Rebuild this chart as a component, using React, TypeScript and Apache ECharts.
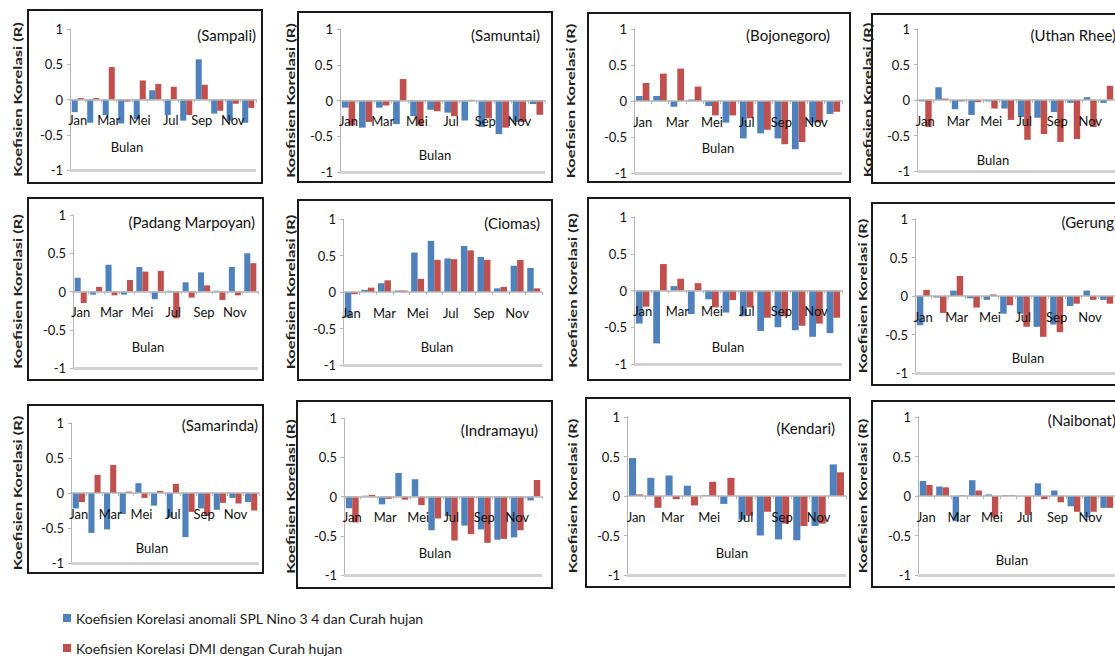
import React, { useEffect, useRef } from 'react';
import * as echarts from 'echarts';

const months = ['Jan', 'Feb', 'Mar', 'Apr', 'Mei', 'Jun', 'Jul', 'Agu', 'Sep', 'Okt', 'Nov', 'Des'];
const seriesNames = [
  'Koefisien Korelasi anomali SPL Nino 3 4 dan Curah hujan',
  'Koefisien Korelasi DMI dengan Curah hujan',
];
const stationNames = [
  '(Sampali)', '(Samuntai)', '(Bojonegoro)', '(Uthan Rhee)',
  '(Padang Marpoyan)', '(Ciomas)', '', '(Gerung)',
  '(Samarinda)', '(Indramayu)', '(Kendari)', '(Naibonat)',
];
const yAxisTitle = 'Koefisien Korelasi (R)';
const xAxisTitle = 'Bulan';

const ninoSampali = [-0.18, -0.33, -0.22, -0.34, -0.28, 0.13, -0.22, -0.30, 0.57, -0.20, -0.30, -0.33];
const dmiSampali = [0.02, 0.02, 0.46, -0.03, 0.27, 0.22, 0.18, -0.22, 0.21, -0.16, -0.06, -0.12];
const ninoSamuntai = [-0.10, -0.38, -0.10, -0.33, -0.22, -0.13, -0.17, -0.28, -0.37, -0.47, -0.30, -0.05];
const dmiSamuntai = [-0.35, -0.30, -0.07, 0.30, -0.35, -0.15, -0.22, 0.01, -0.25, -0.38, -0.30, -0.20];
const ninoBojonegoro = [0.07, 0.07, -0.08, 0.02, -0.07, -0.30, -0.52, -0.45, -0.52, -0.67, -0.30, -0.18];
const dmiBojonegoro = [0.25, 0.38, 0.45, 0.20, -0.20, -0.20, -0.24, -0.40, -0.60, -0.57, -0.30, -0.15];
const ninoUthanRhee = [-0.02, 0.18, -0.13, -0.21, -0.02, -0.12, -0.24, -0.25, -0.17, -0.04, 0.04, -0.04];
const dmiUthanRhee = [-0.38, 0.02, -0.02, -0.03, -0.12, -0.28, -0.56, -0.48, -0.59, -0.55, -0.38, 0.20];
const ninoPadang = [0.18, -0.04, 0.35, -0.04, 0.32, -0.10, 0.01, 0.12, 0.25, 0.01, 0.32, 0.50];
const dmiPadang = [-0.15, 0.06, -0.05, 0.15, 0.26, 0.27, -0.35, -0.08, 0.08, -0.11, -0.05, 0.37];
const ninoCiomas = [-0.35, 0.03, 0.12, 0.02, 0.54, 0.70, 0.46, 0.63, 0.48, 0.05, 0.36, 0.33];
const dmiCiomas = [-0.03, 0.06, 0.16, 0.02, 0.18, 0.44, 0.45, 0.57, 0.44, 0.07, 0.44, 0.05];
const ninoPanel7 = [-0.45, -0.72, 0.06, -0.32, -0.12, -0.30, -0.35, -0.55, -0.50, -0.54, -0.63, -0.58];
const dmiPanel7 = [-0.22, 0.36, 0.16, 0.10, -0.23, -0.13, -0.23, -0.37, -0.35, -0.48, -0.45, -0.37];
const ninoGerung = [-0.38, -0.02, 0.07, -0.03, -0.05, -0.23, -0.23, -0.40, -0.37, -0.13, 0.07, -0.05];
const dmiGerung = [0.08, -0.22, 0.26, -0.15, 0.02, -0.12, -0.40, -0.53, -0.47, -0.10, -0.05, -0.10];
const ninoSamarinda = [-0.22, -0.57, -0.52, -0.30, 0.14, -0.18, -0.35, -0.63, -0.22, -0.24, -0.07, -0.13];
const dmiSamarinda = [-0.13, 0.26, 0.40, 0.02, -0.07, 0.03, 0.13, -0.27, -0.33, -0.14, -0.15, -0.25];
const ninoIndramayu = [-0.15, 0.01, -0.10, 0.30, 0.22, -0.43, -0.25, -0.37, -0.42, -0.55, -0.52, -0.05];
const dmiIndramayu = [-0.33, 0.02, -0.03, -0.04, -0.11, -0.28, -0.56, -0.48, -0.59, -0.54, -0.43, 0.21];
const ninoKendari = [0.48, 0.23, 0.26, 0.13, 0.01, -0.10, -0.30, -0.50, -0.55, -0.56, -0.38, 0.40];
const dmiKendari = [0.02, -0.15, -0.04, -0.12, 0.18, 0.23, -0.25, -0.20, -0.35, -0.38, -0.35, 0.30];
const ninoNaibonat = [0.19, 0.12, -0.32, 0.20, 0.02, 0.01, 0.00, 0.16, 0.07, -0.13, -0.27, -0.15];
const dmiNaibonat = [0.14, 0.11, 0.01, 0.07, -0.27, 0.01, -0.24, -0.04, -0.08, -0.20, -0.20, -0.15];

const ninoSets = [ninoSampali, ninoSamuntai, ninoBojonegoro, ninoUthanRhee, ninoPadang, ninoCiomas, ninoPanel7, ninoGerung, ninoSamarinda, ninoIndramayu, ninoKendari, ninoNaibonat];
const dmiSets = [dmiSampali, dmiSamuntai, dmiBojonegoro, dmiUthanRhee, dmiPadang, dmiCiomas, dmiPanel7, dmiGerung, dmiSamarinda, dmiIndramayu, dmiKendari, dmiNaibonat];

// layout: grid [left, top, right, bottom], box [x1,y1,x2,y2], ylabel x, title [right x, y], bulan [x, y]
const W = 1115;
const H = 657;
const layout = [
  { g: [70, 29, 256, 170], b: [28, 10, 262, 183], yl: 17, t: [256, 35], bl: [127, 147] },
  { g: [340, 29, 545, 172], b: [298, 12, 552, 182], yl: 290, t: [540, 35], bl: [435, 155] },
  { g: [634, 29, 842, 173], b: [588, 13, 850, 182], yl: 570, t: [830, 35], bl: [718, 148] },
  { g: [917, 29, 1117, 171], b: [872, 14, 1135, 183], yl: 867, t: [1116, 35], bl: [993, 160] },
  { g: [73, 215, 258, 368], b: [28, 198, 263, 380], yl: 17, t: [255, 222], bl: [148, 347] },
  { g: [343, 219, 542, 365], b: [298, 200, 552, 380], yl: 290, t: [540, 223], bl: [437, 347] },
  { g: [634, 217, 842, 364], b: [588, 198, 850, 380], yl: 572, t: [835, 222], bl: [728, 347] },
  { g: [915, 219, 1130, 373], b: [872, 203, 1135, 385], yl: 862, t: [1118, 222], bl: [1028, 358] },
  { g: [71, 423, 259, 563], b: [28, 405, 263, 573], yl: 17, t: [258, 425], bl: [152, 548] },
  { g: [344, 418, 542, 575], b: [297, 401, 552, 588], yl: 290, t: [538, 430], bl: [435, 553] },
  { g: [627, 417, 846, 575], b: [586, 398, 850, 587], yl: 572, t: [835, 428], bl: [732, 553] },
  { g: [918, 417, 1116, 575], b: [872, 401, 1135, 587], yl: 862, t: [1116, 420], bl: [1012, 560] },
];

const FONT = "'Liberation Sans Narrow', Lato, 'Open Sans', sans-serif";
const BLUE = '#4F81BD';
const RED = '#C0504D';

export default function App() {
  const ref = useRef<HTMLDivElement>(null);
  useEffect(() => {
    if (!ref.current) return;
    const chart = echarts.init(ref.current, null, { renderer: 'svg' });
    const grids: any[] = [];
    const xAxes: any[] = [];
    const yAxes: any[] = [];
    const series: any[] = [];
    const graphics: any[] = [];

    layout.forEach((p, i) => {
      const [l, t, r, b] = p.g;
      const h = b - t;
      grids.push({ left: l, top: t, width: r - l, height: h, containLabel: false });
      xAxes.push({
        gridIndex: i,
        type: 'category',
        data: months,
        position: 'bottom',
        offset: -h / 2,
        z: 5,
        axisLine: { onZero: false, lineStyle: { color: '#b5b5b5', width: 1.5 } },
        axisTick: { show: true, length: 3, interval: 0, lineStyle: { color: '#b5b5b5' } },
        axisLabel: { interval: 1, margin: 14, fontSize: 13, color: '#111', fontFamily: FONT },
        splitLine: { show: false },
      });
      yAxes.push({
        gridIndex: i,
        type: 'value',
        min: -1,
        max: 1,
        interval: 0.5,
        axisLine: { show: true, lineStyle: { color: '#b5b5b5' } },
        axisTick: { show: true, length: 3, lineStyle: { color: '#b5b5b5' } },
        splitLine: { show: false },
        axisLabel: { fontSize: 13, color: '#111', fontFamily: FONT, margin: 7 },
      });
      series.push({
        type: 'bar',
        name: seriesNames[0],
        xAxisIndex: i,
        yAxisIndex: i,
        data: ninoSets[i],
        itemStyle: { color: BLUE },
        barGap: '0%',
        barCategoryGap: '22%',
        markLine: {
          silent: true,
          symbol: ['none', 'none'],
          label: { show: false },
          lineStyle: { color: '#d2d2d2', width: 3, type: 'solid' },
          data: [{ yAxis: -1 }],
        },
      });
      series.push({
        type: 'bar',
        name: seriesNames[1],
        xAxisIndex: i,
        yAxisIndex: i,
        data: dmiSets[i],
        itemStyle: { color: RED },
        barGap: '0%',
        barCategoryGap: '22%',
      });
      const [x1, y1, x2, y2] = p.b;
      graphics.push({
        type: 'rect',
        shape: { x: x1, y: y1, width: x2 - x1, height: y2 - y1 },
        style: { fill: 'none', stroke: '#1a1a1a', lineWidth: 2 },
        z: 100,
      });
      graphics.push({
        type: 'text',
        x: p.yl,
        y: (t + b) / 2,
        rotation: Math.PI / 2,
        scaleY: 0.72,
        style: {
          text: yAxisTitle,
          fill: '#222',
          fontSize: 16.5,
          fontWeight: 'bold',
          fontFamily: 'Lato, sans-serif',
          align: 'center',
          verticalAlign: 'middle',
        },
        z: 100,
      });
      if (stationNames[i]) {
        graphics.push({
          type: 'text',
          x: p.t[0],
          y: p.t[1],
          style: {
            text: stationNames[i],
            fill: '#111',
            fontSize: 15,
            fontFamily: FONT,
            align: 'right',
            verticalAlign: 'middle',
          },
          z: 100,
        });
      }
      graphics.push({
        type: 'text',
        x: p.bl[0],
        y: p.bl[1],
        style: {
          text: xAxisTitle,
          fill: '#111',
          fontSize: 13,
          fontFamily: FONT,
          align: 'center',
          verticalAlign: 'middle',
        },
        z: 100,
      });
    });

    const legendCommon = {
      orient: 'vertical',
      left: 58,
      itemWidth: 8,
      itemHeight: 8,
      icon: 'rect',
      textStyle: { fontSize: 14, color: '#222', fontFamily: FONT },
    };

    chart.setOption({
      animation: false,
      backgroundColor: '#ffffff',
      grid: grids,
      xAxis: xAxes,
      yAxis: yAxes,
      series,
      graphic: graphics,
      legend: [
        { ...legendCommon, data: [seriesNames[0]], top: 606 },
        { ...legendCommon, data: [seriesNames[1]], top: 636 },
      ],
    });
    return () => chart.dispose();
  }, []);
  return (
    <div
      ref={ref}
      style={{ position: 'absolute', left: 0, top: 0, width: W, height: H, overflow: 'hidden' }}
    />
  );
}
